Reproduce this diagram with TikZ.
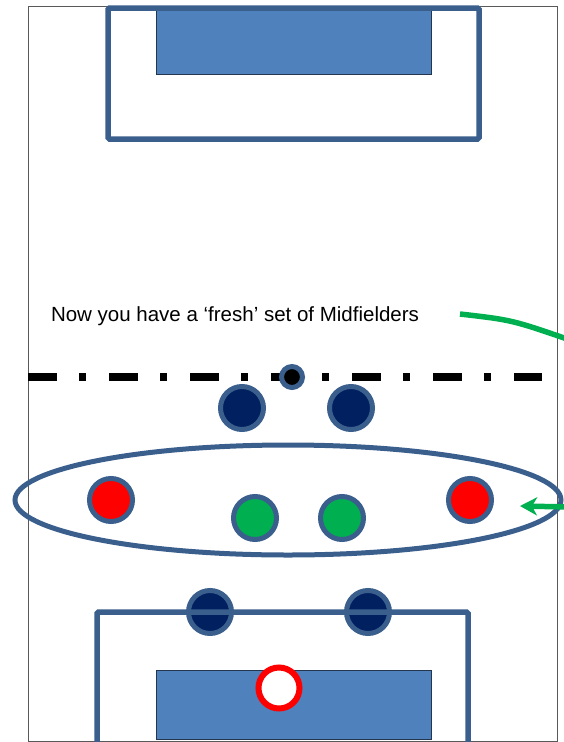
\documentclass[tikz,border=0pt]{standalone}
\usepackage{fontspec}
\setmainfont{Liberation Sans}
\usetikzlibrary{
  arrows.meta,
  shapes.geometric
}
\definecolor{pitchGrey}{HTML}{595959}
\definecolor{areaBlue}{HTML}{3A5F8D}
\definecolor{goalBlue}{HTML}{4F81BD}
\definecolor{goalEdge}{HTML}{243550}
\definecolor{navyP}{HTML}{002060}
\definecolor{redP}{HTML}{FF0000}
\definecolor{greenP}{HTML}{00B050}

\begin{document}
\begin{tikzpicture}[
  x=1pt, y=-1pt,
  every node/.style={inner sep=0pt, outer sep=0pt},
  player/.style={
    circle, draw=areaBlue, line width=5pt, minimum size=43pt
  },
  navyplayer/.style={player, fill=navyP},
  redplayer/.style={player, fill=redP},
  greenplayer/.style={player, fill=greenP},
  keeper/.style={
    circle, draw=redP, fill=white, line width=6pt, minimum size=41pt
  },
  ballnode/.style={
    circle, draw=areaBlue, fill=black, line width=5pt, minimum size=21pt
  },
  area/.style={draw=areaBlue, line width=5.5pt, rounded corners=1.5pt},
  goal/.style={draw=goalEdge, fill=goalBlue, line width=1pt},
  halfway/.style={line width=8pt, dash pattern=on 29pt off 22pt on 7pt off 23pt},
  greenline/.style={draw=greenP, line width=5.5pt},
  arrow/.style={greenline, -{Stealth[length=17pt, width=18pt, inset=5pt]}}
]
 \useasboundingbox (0,0) rectangle (564,742);

 % Pitch outline
 \draw[pitchGrey, line width=1pt] (28,6) rectangle (557,741);

 % Top end -- goal and penalty area
 \draw[goal] (156,10) rectangle (431,74);
 \draw[area] (108,8) rectangle (479,139);

 % Halfway line with the ball
 \draw[halfway] (28,377) -- (542,377);
 \node[ballnode] (ball) at (292,377) {};

 % Caption and green curve
 \node[anchor=base west, font=\fontsize{20.5}{24}\selectfont] (caption) at (51,321)
   {Now you have a ‘fresh’ set of Midfielders};
 \coordinate (curveFrom) at (460,314);
 \coordinate (curveTo) at (570,340);
 \draw[greenline] (curveFrom) .. controls (512,320) .. (curveTo);

 % Forwards
 \node[navyplayer] (f1) at (242,408) {};
 \node[navyplayer] (f2) at (351,408) {};

 % Midfield group -- 4 elements
 \node[ellipse, draw=areaBlue, line width=5pt,
       minimum width=546pt, minimum height=110pt] (midgroup) at (288,500) {};
 \node[redplayer]   (m1) at (111,500) {};
 \node[greenplayer] (m2) at (255,518) {};
 \node[greenplayer] (m3) at (342,518) {};
 \node[redplayer]   (m4) at (470,500) {};

 \coordinate (arrowFrom) at (570,507);
 \coordinate (arrowTo) at (520,506);
 \draw[arrow] (arrowFrom) -- (arrowTo);

 % Bottom end -- defenders, penalty area, goal and keeper
 \node[navyplayer] (d1) at (210,612) {};
 \node[navyplayer] (d2) at (368,612) {};
 \draw[area] (97,750) |- (468,612) -- (468,750);
 \draw[goal] (156,670) rectangle (431,739);
 \node[keeper] (gk) at (279,688) {};
\end{tikzpicture}
\end{document}
